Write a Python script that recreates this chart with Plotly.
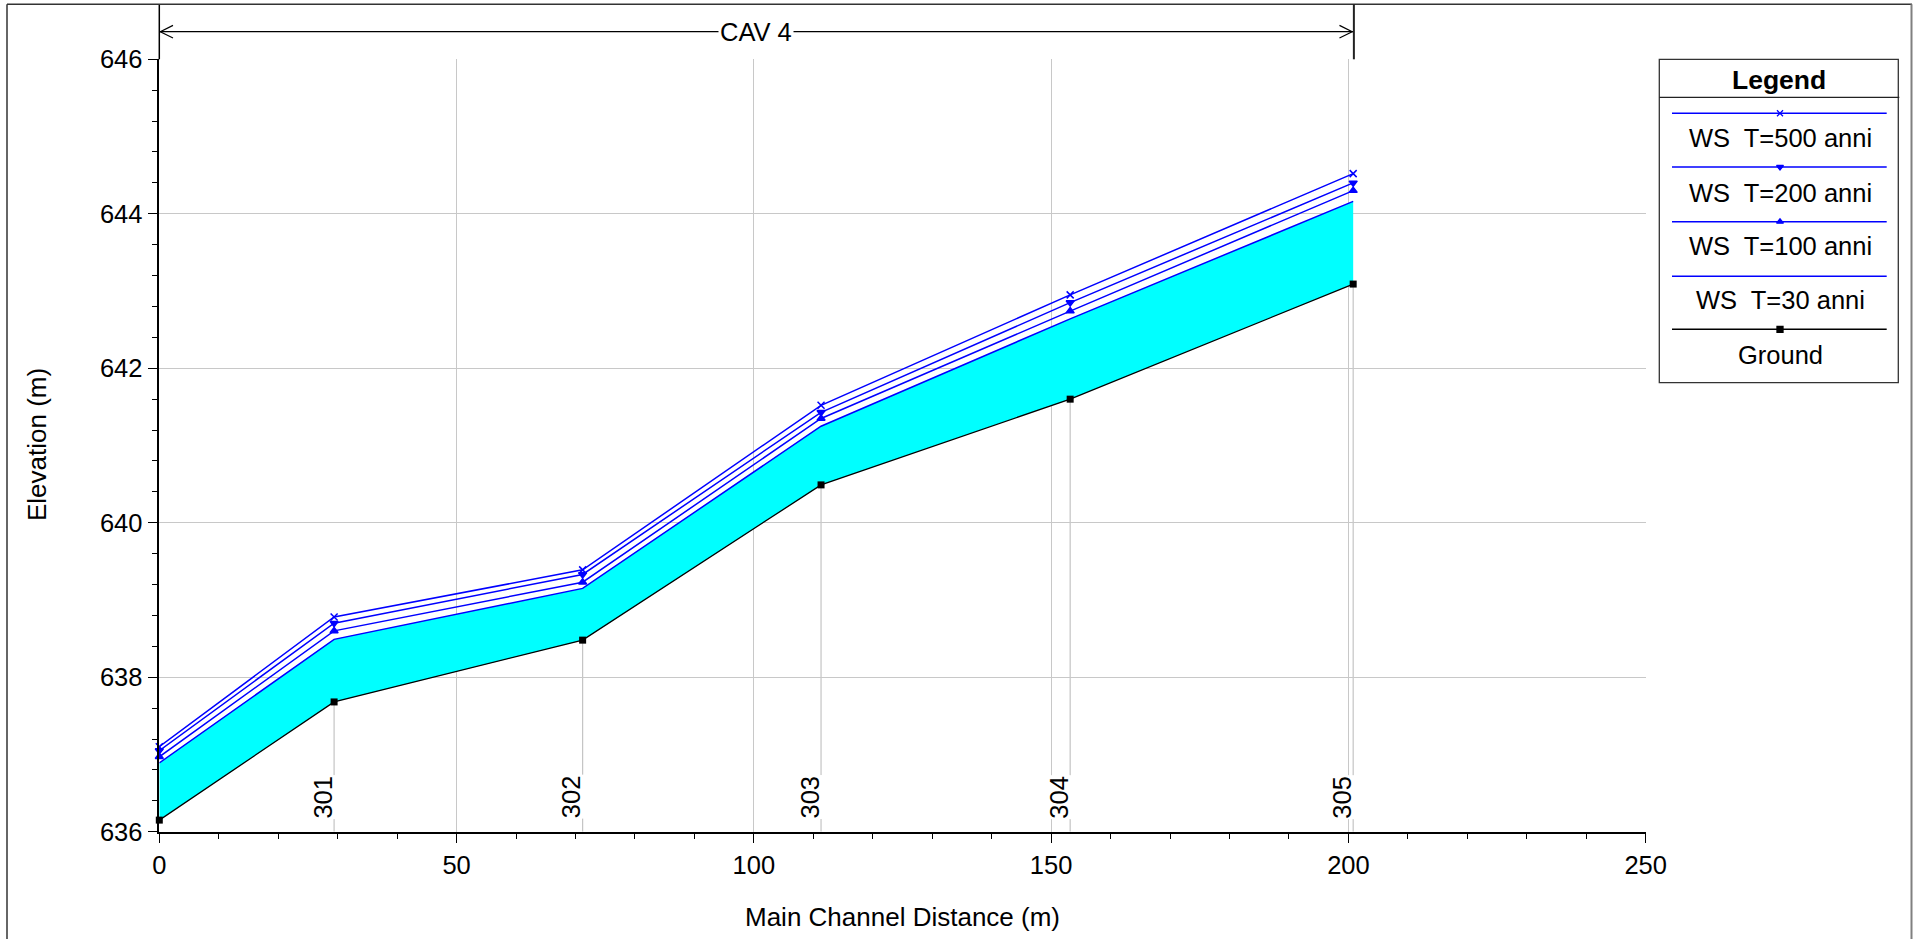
import plotly.graph_objects as go

# ---------------- data ----------------
stations = [0, 29.4, 71.2, 111.3, 153.2, 200.8]
section_labels = ["", "301", "302", "303", "304", "305"]
ground = [636.15, 637.68, 638.48, 640.49, 641.60, 643.09]
ws_30 = [636.89, 638.49, 639.15, 641.25, 642.64, 644.16]
ws_100 = [636.97, 638.60, 639.23, 641.35, 642.74, 644.30]
ws_200 = [637.05, 638.70, 639.33, 641.43, 642.85, 644.40]
ws_500 = [637.10, 638.78, 639.39, 641.52, 642.95, 644.52]
reach_label = "CAV 4"
legend_title = "Legend"
legend_names = ["WS  T=500 anni", "WS  T=200 anni", "WS  T=100 anni", "WS  T=30 anni", "Ground"]
x_title = "Main Channel Distance (m)"
y_title = "Elevation (m)"
x_range = [0, 250]
y_range = [636, 646]

# ---------------- layout geometry (pixels) ----------------
FW, FH = 1923, 939
PL, PR, PT, PB = 159.3, 1645.7, 59.3, 831.7
FONT = "Liberation Sans, Arial, sans-serif"
BLUE = "#0000FF"


def px(x):
    return x / FW


def py(y):
    return 1 - y / FH


def data_to_px(xv):
    return PL + (xv - x_range[0]) / (x_range[1] - x_range[0]) * (PR - PL)


fig = go.Figure()

# fill between ground and WS 30
fig.add_trace(go.Scatter(x=stations, y=ground, mode="lines", line=dict(width=0, color="black"),
                         showlegend=False, hoverinfo="skip"))
fig.add_trace(go.Scatter(x=stations, y=ws_30, mode="lines", fill="tonexty", fillcolor="#00FFFF",
                         line=dict(width=0, color=BLUE), showlegend=False, hoverinfo="skip"))

series = [
    (ws_30, "lines", None),
    (ws_100, "lines+markers", "triangle-up"),
    (ws_200, "lines+markers", "triangle-down"),
    (ws_500, "lines+markers", "x-thin-open"),
]
for vals, mode, sym in series:
    fig.add_trace(go.Scatter(
        x=stations, y=vals, mode=mode,
        line=dict(color=BLUE, width=1.5),
        marker=dict(symbol=sym or "circle", size=7, color=BLUE, line=dict(color=BLUE, width=1.5)),
        showlegend=False, cliponaxis=False))
fig.add_trace(go.Scatter(x=stations, y=ground, mode="lines+markers",
                         line=dict(color="black", width=1.3),
                         marker=dict(symbol="square", size=7, color="black"),
                         showlegend=False, cliponaxis=False))

shapes = []
annotations = []

# section lines from axis up to ground and their labels
for s, g, lab in zip(stations, ground, section_labels):
    if not lab:
        continue
    shapes.append(dict(type="line", xref="x", yref="y", x0=s, x1=s, y0=y_range[0], y1=g,
                       line=dict(color="#C4C4C4", width=1.2), layer="below"))
    annotations.append(dict(x=s, xref="x", y=py(797), yref="paper", text=lab, showarrow=False,
                            textangle=-90, xshift=-11.5, xanchor="center", yanchor="middle",
                            bgcolor="white", borderpad=0,
                            font=dict(family=FONT, size=25.5, color="black")))

# y axis extension to the top frame
shapes.append(dict(type="line", xref="paper", yref="paper", x0=px(PL), x1=px(PL), y0=py(PT), y1=py(4.3),
                   line=dict(color="black", width=1.5)))
# outer frame
shapes.append(dict(type="line", xref="paper", yref="paper", x0=px(7), x1=px(1912), y0=py(4.3), y1=py(4.3),
                   line=dict(color="#333333", width=1.5)))
shapes.append(dict(type="line", xref="paper", yref="paper", x0=px(7), x1=px(7), y0=py(4.3), y1=0,
                   line=dict(color="#333333", width=1.5)))
shapes.append(dict(type="line", xref="paper", yref="paper", x0=px(1911.5), x1=px(1911.5), y0=py(4.3), y1=0,
                   line=dict(color="#808080", width=2)))

# reach arrow
ya = 31.7
x0p, x1p = data_to_px(stations[0]), data_to_px(stations[-1])
shapes.append(dict(type="line", xref="paper", yref="paper", x0=px(x0p), x1=px(x1p), y0=py(ya), y1=py(ya),
                   line=dict(color="black", width=1.2)))
for tip, d in [(x0p + 1, 1), (x1p - 1, -1)]:
    path = "M {} {} L {} {} L {} {}".format(px(tip + d * 12.7), py(ya - 6.3), px(tip), py(ya),
                                           px(tip + d * 12.7), py(ya + 6.3))
    shapes.append(dict(type="path", xref="paper", yref="paper", path=path,
                       line=dict(color="black", width=1.2)))
shapes.append(dict(type="line", xref="paper", yref="paper", x0=px(x1p + 0.7), x1=px(x1p + 0.7),
                   y0=py(4.3), y1=py(PT), line=dict(color="#222222", width=2)))
annotations.append(dict(x=px((x0p + x1p) / 2), y=py(ya), xref="paper", yref="paper", text=reach_label,
                        showarrow=False, bgcolor="white", borderpad=1, xanchor="center", yanchor="middle",
                        font=dict(family=FONT, size=25.5, color="black")))

# axis titles
annotations.append(dict(x=px((PL + PR) / 2), y=py(917), xref="paper", yref="paper", text=x_title,
                        showarrow=False, xanchor="center", yanchor="middle",
                        font=dict(family=FONT, size=26, color="black")))
annotations.append(dict(x=px(37), y=py(445), xref="paper", yref="paper", text=y_title, textangle=-90,
                        showarrow=False, xanchor="center", yanchor="middle",
                        font=dict(family=FONT, size=26, color="black")))

# legend box
LX0, LX1, LY0, LY1 = 1659.3, 1898.3, 59.3, 382.7
shapes.append(dict(type="rect", xref="paper", yref="paper", x0=px(LX0), x1=px(LX1), y0=py(LY1), y1=py(LY0),
                   line=dict(color="#333333", width=1.3), fillcolor="white", layer="below"))
shapes.append(dict(type="line", xref="paper", yref="paper", x0=px(LX0), x1=px(LX1 + 1), y0=py(97.3), y1=py(97.3),
                   line=dict(color="#222222", width=1.2)))
annotations.append(dict(x=px(1779), y=py(79.5), xref="paper", yref="paper", text="<b>" + legend_title + "</b>",
                        showarrow=False, xanchor="center", yanchor="middle",
                        font=dict(family=FONT, size=26.5, color="black")))
key_y = [113.3, 167.0, 221.7, 276.3, 329.3]
text_y = [138.2, 192.5, 245.8, 300.3, 354.8]
key_styles = [(BLUE, "x-thin-open"), (BLUE, "triangle-down"), (BLUE, "triangle-up"), (BLUE, None), ("black", "square")]
for name, ky, ty, (col, sym) in zip(legend_names, key_y, text_y, key_styles):
    fig.add_trace(go.Scatter(x=[1672, 1886.7], y=[ky, ky], xaxis="x2", yaxis="y2", mode="lines",
                             line=dict(color=col, width=1.5), showlegend=False, hoverinfo="skip",
                             cliponaxis=False))
    if sym:
        fig.add_trace(go.Scatter(x=[1780], y=[ky], xaxis="x2", yaxis="y2", mode="markers",
                                 marker=dict(symbol=sym, size=6, color=col, line=dict(color=col, width=1.3)),
                                 showlegend=False, hoverinfo="skip", cliponaxis=False))
    annotations.append(dict(x=px(1780), y=py(ty), xref="paper", yref="paper",
                            text=name.replace("  ", "\u00a0 "),
                            showarrow=False, xanchor="center", yanchor="middle",
                            font=dict(family=FONT, size=25.5, color="black")))

axis_common = dict(showline=True, linecolor="black", linewidth=1.5, ticks="outside", ticklen=10,
                   tickwidth=1.2, tickcolor="black", showgrid=True, gridcolor="#C8C8C8", gridwidth=1,
                   zeroline=False, automargin=False,
                   tickfont=dict(family=FONT, size=25.5, color="black"))

fig.update_layout(
    width=FW, height=FH,
    margin=dict(l=0, r=0, t=0, b=0),
    paper_bgcolor="white", plot_bgcolor="rgba(0,0,0,0)",
    showlegend=False,
    xaxis=dict(domain=[px(PL), px(PR)], range=x_range, dtick=50, tick0=0,
               minor=dict(dtick=10, ticklen=6, ticks="outside", tickcolor="black", tickwidth=1.2, showgrid=False),
               anchor="y", **axis_common),
    yaxis=dict(domain=[py(PB), py(PT)], range=y_range, dtick=2, tick0=636,
               minor=dict(dtick=0.4, tick0=636, ticklen=6, ticks="outside", tickcolor="black", tickwidth=1.2,
                          showgrid=False),
               anchor="x", **axis_common),
    xaxis2=dict(domain=[0, 1], range=[0, FW], visible=False, anchor="y2", fixedrange=True),
    yaxis2=dict(domain=[0, 1], range=[FH, 0], visible=False, anchor="x2", fixedrange=True),
    shapes=shapes,
    annotations=annotations,
)

fig.write_html("out.html", config={"displayModeBar": False},
               post_script="document.body.style.margin='0';document.body.style.overflow='hidden';")
